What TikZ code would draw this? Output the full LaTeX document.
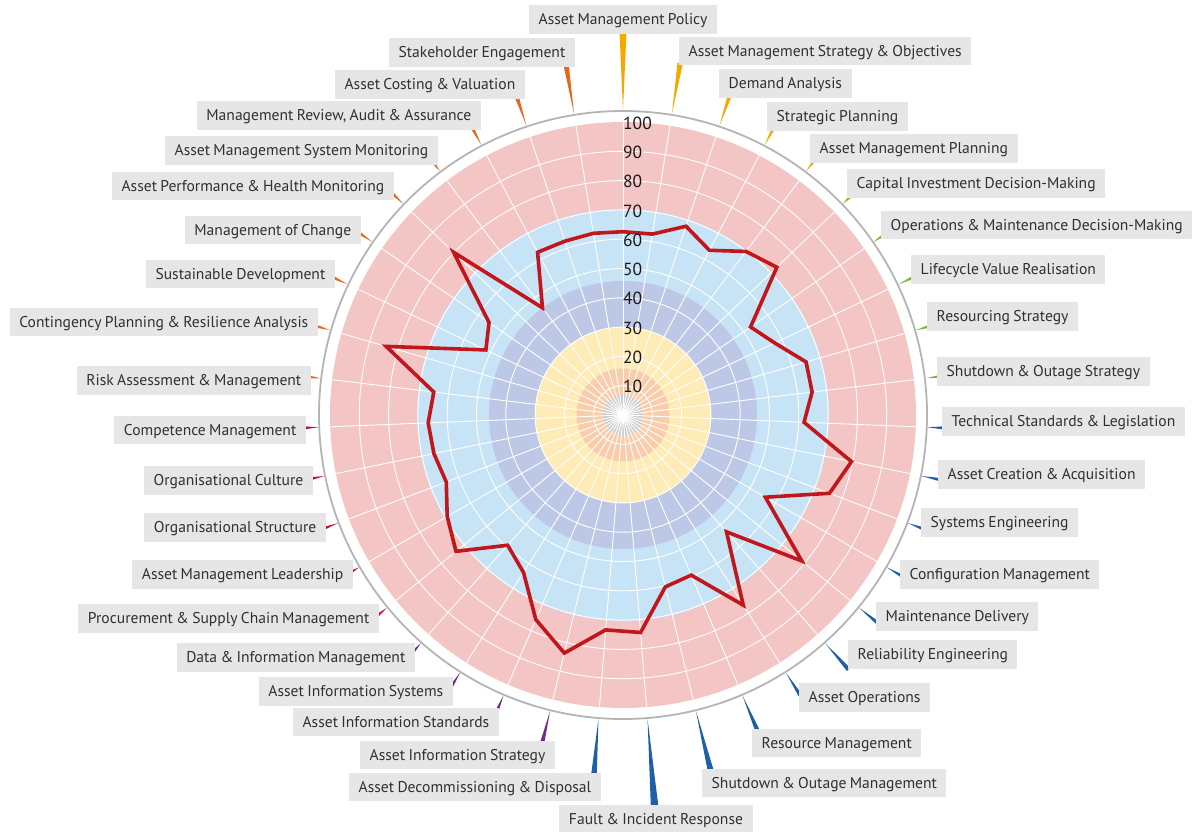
\documentclass[tikz,border=0pt]{standalone}
\usepackage{fontspec}
\setmainfont{PT Sans}[WordSpace=0.8]
\definecolor{pinkc}{HTML}{F3C5C4}
\definecolor{bluec}{HTML}{C6E4F6}
\definecolor{purplec}{HTML}{BDC8E6}
\definecolor{yellowc}{HTML}{FEEBB6}
\definecolor{orangec}{HTML}{F9CCAB}
\definecolor{centerc}{HTML}{CDCDCD}
\definecolor{ringc}{HTML}{B4B4B4}
\definecolor{datac}{HTML}{C1161C}
\definecolor{boxc}{HTML}{E6E6E6}
\definecolor{txtc}{HTML}{303030}
\definecolor{cgold}{HTML}{F6A800}
\definecolor{cgreen}{HTML}{7CB82F}
\definecolor{cblue}{HTML}{1E5FA6}
\definecolor{cpurple}{HTML}{6E2C8C}
\definecolor{cred}{HTML}{C8102E}
\definecolor{corange}{HTML}{E8671E}
\tikzset{
  lbl/.style={fill=boxc, text=txtc, font=\fontsize{15.6}{18}\selectfont, inner xsep=9.5pt, minimum height=28.5pt, inner ysep=0pt, text height=10.9pt, text depth=0pt},
  num/.style={text=black!90, font=\fontsize{17.5}{19}\selectfont, inner sep=0pt, anchor=west},
  gridline/.style={white, line width=0.9pt},
  dataline/.style={datac, line width=3.6pt, line join=miter}
}
\begin{document}
\begin{tikzpicture}[x=1pt,y=-1pt]
\useasboundingbox (0,0) rectangle (1192,832);
\coordinate (C) at (623,415);
% background bands
\fill[pinkc] (C) circle[radius=293pt];
\fill[bluec] (C) circle[radius=206pt];
\fill[purplec] (C) circle[radius=134pt];
\fill[yellowc] (C) circle[radius=88pt];
\fill[orangec] (C) circle[radius=46.5pt];
\fill[centerc] (C) circle[radius=20pt];
% grid
\foreach \k in {1,...,9} {
  \draw[gridline] (C) circle[radius={\k*29.3pt}];
}
\foreach \i in {0,...,38} {
  \pgfmathsetmacro{\a}{\i*360/39}
  \draw[gridline] (C) -- ({623+293*sin(\a)},{415-293*cos(\a)});
}
% outer ring
\draw[ringc, line width=1.8pt] (C) circle[radius=304pt];
% data polygon
\foreach \r [count=\i] in {183.3,183.3,199,186,204.6,213.3,155,168,190.6,190.5,181.2,233.2,220.8,164.4,230.8,156.1,225,174.1,177,218.2,215.6,245.2,222.4,186.2,174,215.6,203,189,193,195,190.6,246.6,151.8,162.8,235,134.1,183.8,183.3,184.1} {
  \pgfmathsetmacro{\a}{(\i-1)*360/39}
  \coordinate (d\i) at ({623+\r*sin(\a)},{415-\r*cos(\a)});
}
\draw[dataline] (d1) \foreach \i in {2,...,39} { -- (d\i) } -- cycle;
% scale numbers
\foreach \v in {10,20,...,100} {
  \node[num] (n\v) at (623,{416-\v*2.93}) {\v};
}
% spikes
\foreach \i/\re/\col in {1/381.5/cgold,2/354.6/cgold,3/335/cgold,4/321.8/cgold,5/315.8/cgold,
  6/313.4/cgreen,7/313/cgreen,8/318.8/cgreen,9/316.5/cgreen,10/316.3/cgreen,
  11/319.3/cblue,12/321.5/cblue,13/318.7/cblue,14/319.9/cblue,15/326.6/cblue,16/338/cblue,17/329.3/cblue,18/341/cblue,19/364/cblue,20/391/cblue,21/359/cblue,
  22/335.8/cpurple,23/319/cpurple,24/318/cpurple,25/313.7/cpurple,
  26/315/cred,27/311.8/cred,28/318.5/cred,29/316.4/cred,30/317.3/cred,
  31/314.3/corange,32/317.5/corange,33/318.8/corange,34/318.3/corange,35/317.5/corange,36/314.6/corange,37/322.4/corange,38/333.7/corange,39/354/corange} {
  \pgfmathsetmacro{\a}{(\i-1)*360/39}
  \pgfmathsetmacro{\hw}{1.2+0.03*(\re-305)}
  \pgfmathsetmacro{\R}{\re+2}
  \fill[\col] ({623+305*sin(\a)},{415-305*cos(\a)})
    -- ({623+\R*sin(\a)+\hw*cos(\a)},{415-\R*cos(\a)+\hw*sin(\a)})
    -- ({623+\R*sin(\a)-\hw*cos(\a)},{415-\R*cos(\a)-\hw*sin(\a)}) -- cycle;
}
% labels
\foreach \i/\an/\x/\y/\t in {
  1/center/623/19.5/{Asset Management Policy},
  2/west/679/51/{Asset Management Strategy \& Objectives},
  3/west/719/83.5/{Demand Analysis},
  4/west/767/116.5/{Strategic Planning},
  5/west/810/148.5/{Asset Management Planning},
  6/west/847/183.5/{Capital Investment Decision-Making},
  7/west/881/225/{Operations \& Maintenance Decision-Making},
  8/west/911/269.5/{Lifecycle Value Realisation},
  9/west/927/316.5/{Resourcing Strategy},
  10/west/937/371.5/{Shutdown \& Outage Strategy},
  11/west/942/421.5/{Technical Standards \& Legislation},
  12/west/938/474.5/{Asset Creation \& Acquisition},
  13/west/921/522.5/{Systems Engineering},
  14/west/900/574.5/{Configuration Management},
  15/west/876/616.5/{Maintenance Delivery},
  16/west/848/654.5/{Reliability Engineering},
  17/west/799/697.5/{Asset Operations},
  18/west/752/743/{Resource Management},
  19/west/702/783/{Shutdown \& Outage Management},
  20/center/656/819.5/{Fault \& Incident Response},
  21/east/601/787/{Asset Decommissioning \& Disposal},
  22/east/555/755/{Asset Information Strategy},
  23/east/499/722/{Asset Information Standards},
  24/east/453/691.5/{Asset Information Systems},
  25/east/415/657.5/{Data \& Information Management},
  26/east/379/618.5/{Procurement \& Supply Chain Management},
  27/east/353/574.5/{Asset Management Leadership},
  28/east/326/527.5/{Organisational Structure},
  29/east/313/480.5/{Organisational Culture},
  30/east/306/430/{Competence Management},
  31/east/311/380.5/{Risk Assessment \& Management},
  32/east/318/322/{Contingency Planning \& Resilience Analysis},
  33/east/335/274/{Sustainable Development},
  34/east/361/230/{Management of Change},
  35/east/394/186/{Asset Performance \& Health Monitoring},
  36/east/438/150.5/{Asset Management System Monitoring},
  37/east/481/115.5/{Management Review, Audit \& Assurance},
  38/east/525/84.5/{Asset Costing \& Valuation},
  39/east/575/52.5/{Stakeholder Engagement}} {
  \node[lbl, anchor=\an] (L\i) at (\x,\y) {\t};
}
\end{tikzpicture}
\end{document}
